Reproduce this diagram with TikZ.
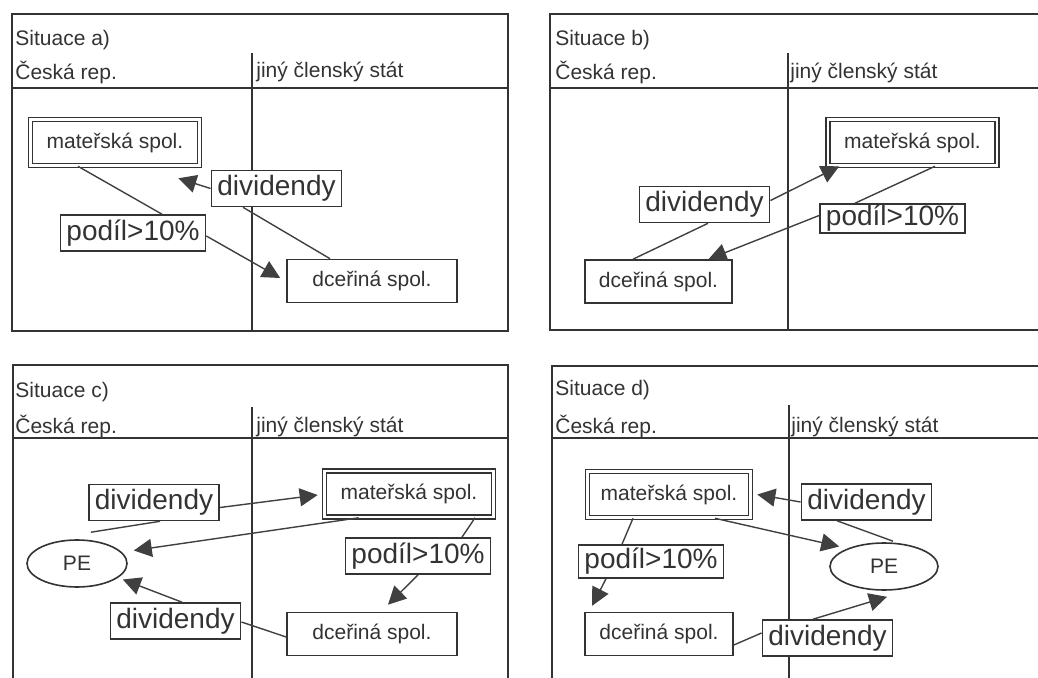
\documentclass[tikz,border=0pt]{standalone}
\usepackage{fontspec}
\setmainfont{Liberation Sans}
\usepackage{tikz}
\usetikzlibrary{shapes.geometric, arrows.meta, positioning, calc}

\begin{document}
\begin{tikzpicture}[
    x=0.5pt, y=-0.5pt, color=black!80,
    panel/.style={draw=black!80, line width=1pt},
    head/.style={anchor=west, inner sep=0pt, font=\fontsize{10.5}{12}\selectfont},
    parent/.style={rectangle, draw=black!80, double, double distance=1.2pt, line width=0.8pt, fill=white, align=center, minimum width=84.5pt, minimum height=23pt, font=\fontsize{10.5}{12}\selectfont},
    child/.style={rectangle, draw=black!80, line width=0.8pt, fill=white, align=center, minimum width=85pt, minimum height=21.5pt, font=\fontsize{10.5}{12}\selectfont},
    flow/.style={rectangle, draw=black!80, line width=0.8pt, fill=white, inner xsep=3pt, inner ysep=0pt, minimum height=18pt, font=\fontsize{14}{16}\selectfont},
    pe/.style={ellipse, draw=black!80, line width=0.8pt, fill=white, inner sep=0pt, minimum width=50pt, minimum height=23.5pt, font=\fontsize{10.5}{12}\selectfont},
    line/.style={draw=black!75, -{Triangle[length=9pt, width=9pt]}, line width=0.7pt},
    link/.style={draw=black!75, line width=0.7pt}
]
\clip (0,0) rectangle (1038,678);

% Panels
\draw[panel] (12,14) rectangle (508,331);
\draw[panel] (12,88) -- (508,88);
\draw[panel] (252,53) -- (252,331);
\draw[panel] (550,14) rectangle (1060,330);
\draw[panel] (550,88) -- (1060,88);
\draw[panel] (788,53) -- (788,330);
\draw[panel] (13,365) rectangle (508,700);
\draw[panel] (13,438) -- (508,438);
\draw[panel] (252,407) -- (252,700);
\draw[panel] (552,366) rectangle (1060,700);
\draw[panel] (552,438) -- (1060,438);
\draw[panel] (789,405) -- (789,700);

% Headers
\node[head] (titA) at (15,40) {Situace a)};
\node[head] (czA) at (15,73) {Česká rep.};
\node[head] (euA) at (256,72) {jiný členský stát};
\node[head] (titB) at (555,40) {Situace b)};
\node[head] (czB) at (555,73) {Česká rep.};
\node[head] (euB) at (790,73) {jiný členský stát};
\node[head] (titC) at (15,392) {Situace c)};
\node[head] (czC) at (15,427) {Česká rep.};
\node[head] (euC) at (256,427) {jiný členský stát};
\node[head] (titD) at (555,390) {Situace d)};
\node[head] (czD) at (555,427) {Česká rep.};
\node[head] (euD) at (791,427) {jiný členský stát};

% Situace a)
\node[parent] (matA) at (115,142.5) {mateřská spol.};
\node[flow] (divA) at (276.5,188.5) {dividendy};
\node[flow] (podA) at (133,233) {podíl>10\%};
\node[child] (dceA) at (372,281) {dceřiná spol.};

\draw[link] ($(matA.south)+(-37,0)$) -- ($(podA.north)+(29,0)$);
\draw[line] ($(podA.east)+(0,3)$) -- ($(dceA.west)+(-6,-3)$);
\draw[link] ($(dceA.north)+(-42,0)$) -- ($(divA.south)+(-33.5,0)$);
\draw[line] (divA.west) -- ($(matA.south east)+(-22,12)$);

% Situace b)
\node[parent] (matB) at (912.5,142.5) {mateřská spol.};
\node[flow] (divB) at (704.5,204.5) {dividendy};
\node[flow, minimum height=14.5pt] (podB) at (892.5,218.5) {podíl>10\%};
\node[child, minimum width=73.5pt] (dceB) at (658.5,281.5) {dceřiná spol.};

\draw[link] ($(dceB.north)+(-25.5,0)$) -- ($(divB.south)+(3.5,0)$);
\draw[line] ($(divB.east)+(0,-4)$) -- ($(matB.south west)+(12,0)$);
\draw[link] ($(matB.south)+(22.5,0)$) -- ($(podB.north)+(-37.5,0)$);
\draw[line] ($(podB.west)+(0,-3)$) -- ($(dceB.north)+(50,0)$);

% Situace c)
\node[parent] (matC) at (409,494) {mateřská spol.};
\node[flow] (divC1) at (154,502.5) {dividendy};
\node[pe] (peC) at (77,563.5) {PE};
\node[flow] (podC) at (418,556) {podíl>10\%};
\node[flow] (divC2) at (175.5,621) {dividendy};
\node[child] (dceC) at (372,634) {dceřiná spol.};

\draw[link] ($(peC.north)+(14,-7)$) -- ($(divC1.south)+(6,0)$);
\draw[line] ($(divC1.east)+(0,5)$) -- ($(matC.west)+(-6,1)$);
\draw[line] ($(matC.south west)+(35,0)$) -- ($(peC.east)+(6,-13)$);
\draw[link] ($(matC.south)+(66,0)$) -- ($(podC.north)+(44,0)$);
\draw[line] (podC.south) -- ($(dceC.north)+(16,-7)$);
\draw[link] ($(dceC.west)+(0,3)$) -- ($(divC2.east)+(0,1)$);
\draw[line] ($(divC2.north)+(6.5,0)$) -- ($(peC.east)+(-5,16)$);

% Situace d)
\node[parent, minimum width=81.5pt] (matD) at (669,494.5) {mateřská spol.};
\node[flow] (divD1) at (866.5,502) {dividendy};
\node[flow, minimum height=16.5pt] (podD) at (651,561.5) {podíl>10\%};
\node[pe, minimum width=54pt] (peD) at (884,566.5) {PE};
\node[child, minimum width=74pt] (dceD) at (659,634) {dceřiná spol.};
\node[flow] (divD2) at (827.5,638) {dividendy};

\draw[link] ($(peD.north)+(9,-1)$) -- ($(divD1.south)+(-29.5,0)$);
\draw[line] (divD1.west) -- ($(matD.east)+(6,0)$);
\draw[line] ($(matD.south)+(46,0)$) -- ($(peD.west)+(10,-20)$);
\draw[link] ($(matD.south)+(-36,0)$) -- ($(podD.north)+(-29,0)$);
\draw[line] ($(podD.south)+(-45,0)$) -- ($(dceD.north west)+(8,-6)$);
\draw[link] ($(dceD.east)+(0,11)$) -- ($(divD2.west)+(0,-5)$);
\draw[line] ($(divD2.north)+(-14.5,0)$) -- ($(peD.south)+(3,6)$);

\end{tikzpicture}
\end{document}
